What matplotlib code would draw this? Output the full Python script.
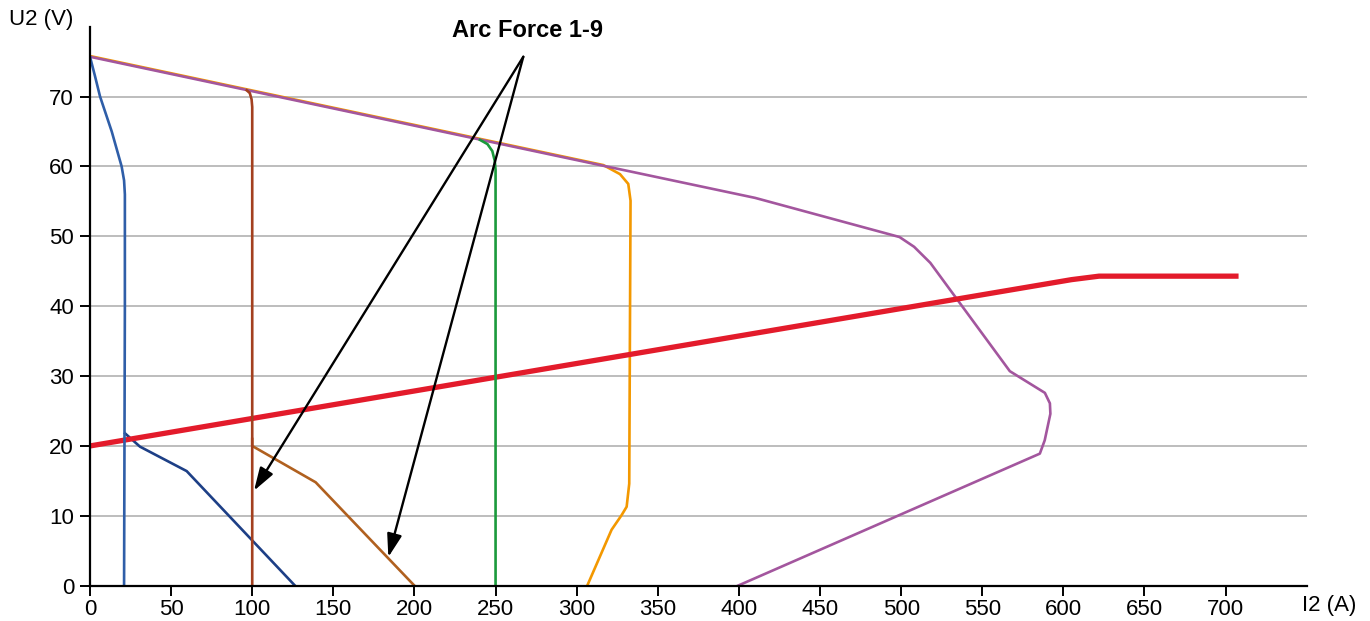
import matplotlib
matplotlib.use("Agg")
import matplotlib.pyplot as plt

plt.rcParams["font.family"] = ["Liberation Sans", "DejaVu Sans"]

# ---- data (I2 in A, U2 in V) ---------------------------------------------
x_ticks = [0, 50, 100, 150, 200, 250, 300, 350, 400, 450, 500, 550, 600, 650, 700]
y_ticks = [0, 10, 20, 30, 40, 50, 60, 70]

blue_i = [0, 3, 6.2, 13.4, 19.5, 21.0, 21.5, 21.5, 21.0]
blue_u = [75.7, 73, 70, 65, 60, 58, 56, 40, 0]

navy_i = [21.6, 30.8, 59.6, 126.4]
navy_u = [21.8, 19.9, 16.4, 0]

brown_i = [96.6, 98.5, 99.6, 100, 100]
brown_u = [70.9, 70.5, 69.6, 68.5, 0]

tan_i = [100, 100, 139.1, 200]
tan_u = [21.0, 20.0, 14.8, 0]

green_i = [240.4, 245, 248, 249.5, 250, 250]
green_u = [63.8, 63.2, 62.2, 60.8, 59.5, 0]

orange_i = [0, 316.4, 326.7, 331.8, 333.2, 332.4, 330.8, 327.7, 321.5, 306.5]
orange_u = [75.8, 60.2, 58.9, 57.5, 55.1, 14.6, 11.3, 10.1, 8.0, 0]

purple_i = [0, 316.4, 410, 499, 508, 518, 567, 588.6, 591.7, 592, 588.5, 585.5, 399.4]
purple_u = [75.7, 60.1, 55.5, 49.9, 48.5, 46.2, 30.7, 27.6, 26.1, 24.6, 20.8, 18.9, 0]

red_i = [0, 605, 622, 708]
red_u = [20.0, 43.8, 44.3, 44.3]

arrow_tail = (267.1, 75.7)
arrow_heads = [(101.1, 13.6), (183.9, 4.1)]

# ---- figure ----------------------------------------------------------------
W, H = 1370, 621
fig = plt.figure(figsize=(W / 100, H / 100), dpi=100)
ax = fig.add_axes([90 / W, 1 - 585.7 / H, (1306.7 - 90) / W, (585.7 - 26.7) / H])
ax.set_xlim(0, 750)
ax.set_ylim(0, 80)

ax.set_xticks(x_ticks)
ax.set_yticks(y_ticks)
ax.tick_params(direction="out", length=7.5, width=1.4, labelsize=16, pad=4, colors="black")
ax.tick_params(axis="x", pad=2)
ax.yaxis.grid(True, color="#b8b8b8", lw=1.3, zorder=0)
ax.set_axisbelow(True)
for s in ("top", "right"):
    ax.spines[s].set_visible(False)
for s in ("left", "bottom"):
    ax.spines[s].set_linewidth(1.6)
    ax.spines[s].set_zorder(6)

lw = 1.9
ax.plot(navy_i, navy_u, color="#1d3f86", lw=lw, zorder=2)
ax.plot(tan_i, tan_u, color="#b0601f", lw=lw, zorder=2)
ax.plot(orange_i, orange_u, color="#f39800", lw=lw, zorder=2)
ax.plot(purple_i, purple_u, color="#a3569e", lw=lw, zorder=2.1)
ax.plot(red_i, red_u, color="#e31b2b", lw=3.8, zorder=3, solid_capstyle="butt")
ax.plot(blue_i, blue_u, color="#2f5ea8", lw=lw, zorder=4)
ax.plot(brown_i, brown_u, color="#a3401f", lw=lw, zorder=4)
ax.plot(green_i, green_u, color="#1b9a3c", lw=lw, zorder=4)

for head in arrow_heads:
    ax.annotate("", xy=head, xytext=arrow_tail,
                arrowprops=dict(arrowstyle="-|>,head_length=1.4,head_width=0.45",
                                color="black", lw=1.7, shrinkA=0, shrinkB=0),
                zorder=7)
ax.text(269.7, 79.5, "Arc Force 1-9", ha="center", va="center",
        fontsize=17, fontweight="bold", clip_on=False)

fig.text(9 / W, 1 - 20 / H, "U2 (V)", ha="left", va="center", fontsize=16)
fig.text(1302 / W, 1 - 605 / H, "I2 (A)", ha="left", va="center", fontsize=16)

fig.savefig("out.png", dpi=100)
